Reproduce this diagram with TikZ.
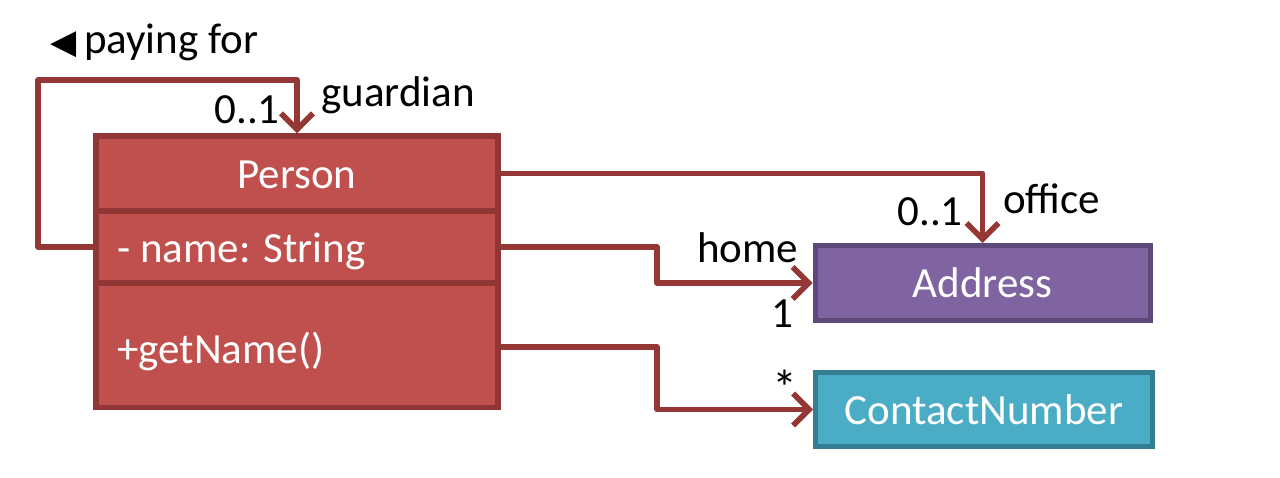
\documentclass[tikz,border=0pt]{standalone}
\usepackage{fontspec}
\setmainfont{Carlito}
\newfontfamily\symfont{DejaVu Sans}
\usetikzlibrary{arrows.meta}
\definecolor{linered}{RGB}{149,55,53}
\definecolor{personfill}{RGB}{192,80,77}
\definecolor{personborder}{RGB}{145,54,52}
\definecolor{addrfill}{RGB}{128,100,162}
\definecolor{addrborder}{RGB}{94,72,122}
\definecolor{contfill}{RGB}{75,172,198}
\definecolor{contborder}{RGB}{52,126,146}
\tikzset{
  bigfont/.style={font=\fontsize{43}{51}\selectfont},
  compart/.style={rectangle, draw=personborder, fill=personfill, line width=5.5pt, minimum width=402pt, inner sep=0pt},
  classbox/.style={rectangle, line width=5pt, inner sep=0pt, text=white, bigfont},
  intext/.style={text=white, bigfont, inner sep=0pt},
  lbl/.style={text=black, bigfont, inner sep=0pt},
  assoc/.style={draw=linered, line width=5.5pt, line join=round, -{Straight Barb[length=16pt,width=32pt]}}
}
\begin{document}
\begin{tikzpicture}[x=1pt, y=-1pt]
\useasboundingbox (0,0) rectangle (1280,477);
% Person class compartments
\node[compart, minimum height=75pt] (ptitle) at (297,173.5) {};
\node[compart, minimum height=72pt] (pname) at (297,247) {};
\node[compart, minimum height=124pt] (pop) at (297,345.5) {};
\node[intext, anchor=base] (tperson) at (297,188) {Person};
\node[intext, anchor=base west] (tattr) at (117,262) {- name: String};
\node[intext, anchor=base west] (top) at (117,363) {+getName()};
% other classes
\node[classbox, draw=addrborder, fill=addrfill, minimum width=335pt, minimum height=75pt] (address) at (982.5,283) {Address};
\node[classbox, draw=contborder, fill=contfill, minimum width=337pt, minimum height=74pt] (contact) at (984,409.5) {ContactNumber};
% connectors
\coordinate (loopA) at (38,247);
\coordinate (loopB) at (38,80);
\draw[assoc] (pname.west) -- (loopA) -- (loopB) -| (ptitle.north);
\draw[assoc] (ptitle.east) -| (address.north);
\coordinate (homeK) at (657,247);
\draw[assoc] (pname.east) -- (homeK) |- (address.west);
\coordinate (contK) at (657,347);
\draw[assoc] (pop.east) ++(0,1.5) coordinate (popE) (popE) -- (contK) |- (contact.west);
% labels
\node[lbl, anchor=base west] (payfor) at (50,53) {{\symfont\fontsize{34}{34}\selectfont ◀}\hspace{-2pt} paying for};
\node[lbl, anchor=base west] (guard) at (321,106) {guardian};
\node[lbl, anchor=base east] (gmult) at (280,123) {0..1};
\node[lbl, anchor=base east] (omult) at (963,225) {0..1};
\node[lbl, anchor=base west] (office) at (1003,213) {office};
\node[lbl, anchor=base west] (home) at (697,262) {home};
\node[lbl, anchor=base west] (hmult) at (771,327) {1};
\node[lbl, anchor=base west] (cmult) at (772,405) {\fontsize{50}{50}\selectfont *};
\end{tikzpicture}
\end{document}
